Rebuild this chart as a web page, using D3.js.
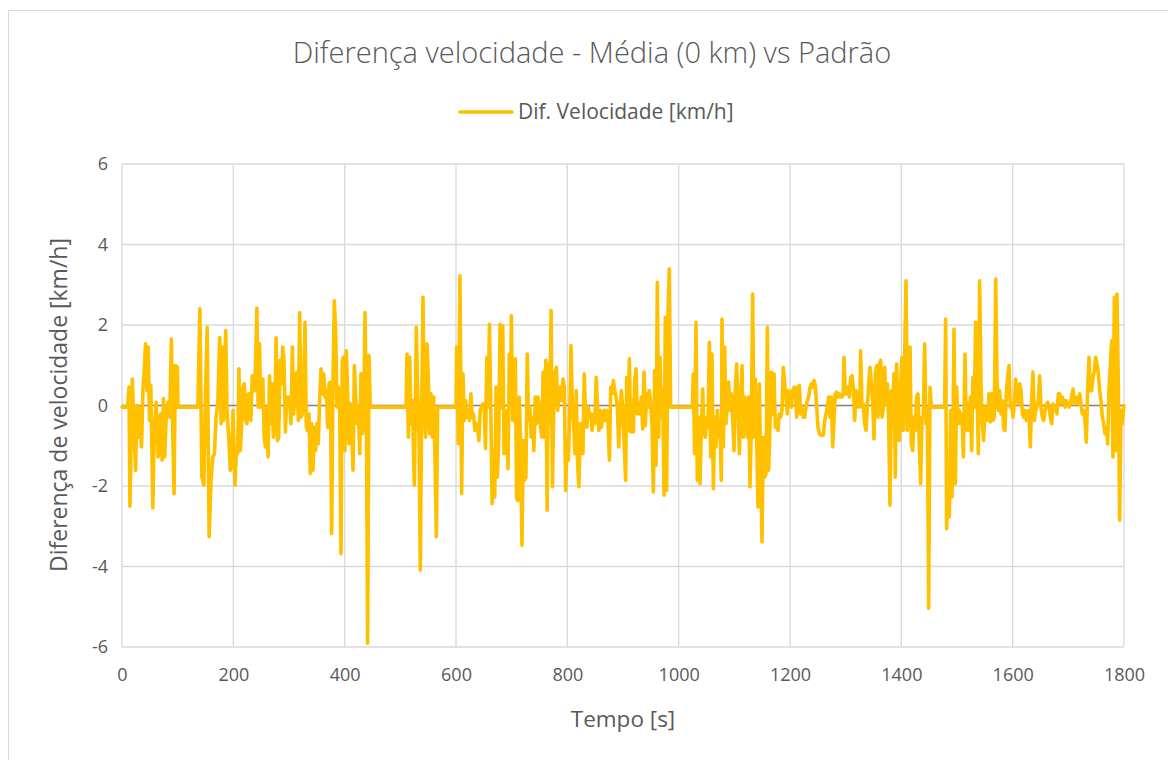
<!DOCTYPE html>
<html>
<head>
<meta charset="utf-8">
<script src="https://cdn.jsdelivr.net/npm/d3@7"></script>
<style>
  body { margin: 0; background: #fff; }
  text { font-family: "Open Sans", "Liberation Sans", sans-serif; fill: #595959; }
</style>
</head>
<body>
<div id="chart"></div>
<script>
// tempo [s]
const tempo = [
  0, 10.1, 12.5, 14.3, 18.5, 22, 24.4, 26.8, 29.2, 31.5,
  35.1, 37.5, 39.9, 42.3, 44.6, 47, 49.4, 51.8, 55.4, 57.7,
  61.3, 64.9, 67.3, 69.6, 72, 74.4, 76.8, 79.8, 82.7, 85.7,
  88.7, 91.1, 93.5, 95.8, 99.4, 100.6, 136.3, 139.9, 143.5, 147,
  150, 153, 156.5, 160, 163, 166, 169, 172, 175.6, 178,
  180.4, 182.7, 186.3, 188.7, 191.7, 194.6, 197, 199.4, 203, 205.4,
  207.7, 210, 212.5, 215, 217.3, 219.6, 222, 224.4, 226.8, 229,
  231.5, 234, 236.3, 238.7, 242.3, 244.6, 247, 249.4, 253, 255.4,
  257.7, 260, 262.5, 265, 267.3, 269.6, 272, 274.4, 276.8, 279.2,
  281.5, 284, 286.3, 288.7, 291, 293.5, 295.8, 298.2, 300.6, 303.6,
  306, 308.4, 311.4, 314.4, 316.8, 319.2, 321.6, 324, 326.3, 328.7,
  331.1, 333.5, 335.9, 338.3, 340.7, 343.1, 345.5, 347.9, 350.3, 352.7,
  355.1, 357.5, 359.9, 362.3, 364.7, 367.1, 369.5, 371.9, 374.3, 376.6,
  379, 381.4, 383.8, 386.2, 388.6, 391, 393.4, 395.8, 398.2, 400.6,
  403, 405.4, 407.8, 410.2, 412.6, 415, 417.4, 419.8, 422.2, 424.6,
  427, 429.3, 431.7, 434.1, 436.5, 438.9, 441.3, 443.7, 446.1, 510.2,
  512, 514.4, 516.8, 519.2, 521.6, 525.1, 528.7, 531.1, 533.5, 535.9,
  538.3, 540.7, 543.1, 545.5, 547.9, 550.3, 552.7, 555.1, 557.5, 559.9,
  562.3, 564.7, 567.1, 600, 601.2, 604.2, 607.1, 610.1, 612.5, 614.9,
  617.3, 619.6, 622, 624.4, 626.8, 629.2, 631.5, 633.9, 636.3, 638.7,
  641.1, 643.5, 645.8, 648.2, 650.6, 653, 655.4, 657.7, 660.1, 662.5,
  664.9, 667.3, 669.6, 672, 674.4, 676.8, 679.2, 681.5, 683.9, 686.3,
  688.7, 691.1, 693.5, 695.8, 698.2, 699.4, 701.8, 704.2, 706.5, 708.9,
  711.3, 713.7, 716.1, 718.5, 720.8, 723.2, 725.6, 728, 730.4, 732.7,
  735.1, 737.5, 739.9, 742.3, 744.6, 747, 749.4, 751.8, 754.2, 756.5,
  758.9, 761.3, 763.7, 766.1, 768.5, 770.8, 773.2, 775.6, 778, 780.4,
  782.7, 785.1, 787.5, 789.9, 792.3, 794.6, 797, 799.4, 801.8, 804.2,
  806.5, 808.9, 811.3, 813.7, 816.1, 818.5, 820.8, 823.2, 825.6, 828,
  830.4, 832.7, 835.1, 837.5, 839.9, 842.3, 844.6, 847, 849.4, 851.8,
  854.2, 856.5, 858.9, 861.3, 863.7, 866.1, 868.5, 870.8, 873.2, 875.6,
  878, 880.4, 882.7, 885.1, 887.5, 889.9, 892.3, 894.6, 897, 899.4,
  904.8, 906.6, 909, 911.4, 913.8, 916.2, 918.6, 921, 923.4, 925.7,
  928.1, 930.5, 932.9, 935.3, 937.7, 940.1, 942.5, 944.9, 947.3, 949.7,
  952.1, 954.5, 956.9, 959.3, 961.7, 964.1, 966.5, 968.9, 971.3, 973.7,
  976, 978.4, 980.8, 983.2, 985.6, 1024.6, 1026.3, 1028.7, 1031.1, 1033.5,
  1035.9, 1038.3, 1040.7, 1043.1, 1045.5, 1047.9, 1050.3, 1052.7, 1055.1, 1057.5,
  1059.9, 1062.3, 1064.7, 1067.1, 1069.5, 1071.9, 1074.3, 1076.6, 1077.8, 1080.2,
  1082.6, 1085, 1087.4, 1089.8, 1092.2, 1094.6, 1097, 1099.4, 1101.8, 1104.2,
  1106.6, 1109, 1111.4, 1113.8, 1116.2, 1118.6, 1121, 1123.4, 1125.7, 1128.1,
  1130.5, 1132.9, 1135.3, 1137.7, 1140.1, 1142.5, 1144.9, 1147.3, 1149.7, 1152.1,
  1154.5, 1156.9, 1159.3, 1161.7, 1164.1, 1166.5, 1168.9, 1171.3, 1173.7, 1176,
  1178.4, 1180.8, 1183.2, 1185.6, 1188, 1190.4, 1192.8, 1195.2, 1197.6, 1200,
  1202.4, 1204.8, 1207.2, 1209.6, 1212, 1214.4, 1216.8, 1219.2, 1221.6, 1224,
  1226.3, 1228.7, 1231.1, 1233.5, 1235.9, 1238.3, 1240.7, 1243.1, 1245.5, 1247.9,
  1250.3, 1252.7, 1255.1, 1257.5, 1259.9, 1262.3, 1264.7, 1267.1, 1269.5, 1271.9,
  1274.3, 1276.6, 1279, 1281.4, 1283.8, 1286.2, 1288.6, 1291, 1293.4, 1295.8,
  1297, 1299.4, 1301.8, 1304.2, 1306.6, 1309, 1311.4, 1313.8, 1316.2, 1318.6,
  1321, 1323.4, 1325.7, 1326.9, 1329.3, 1331.7, 1334.1, 1336.5, 1338.9, 1341.3,
  1343.7, 1346.1, 1348.5, 1350.9, 1353.3, 1355.7, 1358.1, 1360.5, 1362.9, 1365.3,
  1367.7, 1370.1, 1372.5, 1374.9, 1377.2, 1379.6, 1382, 1384.4, 1386.8, 1389.2,
  1391.6, 1394, 1396.4, 1398.8, 1401.2, 1403.6, 1406, 1408.4, 1410.8, 1413.2,
  1415.6, 1418, 1420.4, 1422.8, 1425.1, 1427.5, 1429.9, 1432.3, 1434.7, 1437.1,
  1439.5, 1441.9, 1444.3, 1446.7, 1449.1, 1451.5, 1453.9, 1477.8, 1479.6, 1481.4,
  1483.8, 1486.2, 1488.6, 1491, 1493.4, 1494.6, 1497, 1499.4, 1501.8, 1504.2,
  1506.6, 1509, 1511.4, 1514.4, 1516.8, 1519.2, 1521.6, 1524, 1526.3, 1528.7,
  1531.1, 1533.5, 1535.9, 1538.3, 1540.7, 1543.1, 1545.5, 1547.9, 1550.3, 1552.7,
  1555.1, 1557.5, 1559.9, 1562.3, 1564.7, 1567.1, 1569.5, 1571.9, 1574.3, 1576.6,
  1579, 1581.4, 1583.8, 1586.2, 1588.6, 1591, 1593.4, 1595.8, 1598.2, 1600.6,
  1603, 1605.4, 1607.8, 1610.2, 1612.6, 1615, 1617.4, 1619.8, 1622.2, 1624.6,
  1626.9, 1629.3, 1631.7, 1634.1, 1636.5, 1638.9, 1641.3, 1643.7, 1646.1, 1648.5,
  1650.9, 1653.3, 1655.7, 1658.1, 1660.5, 1662.9, 1665.3, 1667.7, 1670.1, 1672.5,
  1674.9, 1677.2, 1679.6, 1682, 1684.4, 1686.8, 1689.2, 1691.6, 1694, 1696.4,
  1698.8, 1701.2, 1703.6, 1706, 1708.4, 1710.8, 1713.2, 1715.6, 1718, 1720.4,
  1722.8, 1725.1, 1727.5, 1729.9, 1732.3, 1734.7, 1737.1, 1739.5, 1741.9, 1744.3,
  1746.7, 1749.1, 1751.5, 1753.9, 1756.3, 1758.7, 1761.1, 1763.5, 1765.9, 1768.3,
  1770.7, 1773.1, 1775.4, 1777.8, 1780.2, 1782.6, 1785, 1787.4, 1789.8, 1792.2,
  1794.6, 1797, 1799.4, 1800
];

// Dif. Velocidade [km/h]
const difVelocidade = [
  -0.04, -0.04, 0.45, -2.5, 0.66, -0.79, -1.61, 0, -0.79, -0.04,
  -1.03, 0.37, 0.87, 1.53, 0.37, 1.45, -0.37, 0.5, -2.54, -0.79,
  0.08, -1.28, -0.29, -0.21, -1.36, 0.17, -1.28, -0.12, 0.08, -0.29,
  1.65, -0.62, -2.19, 0.99, 0.95, -0.04, -0.04, 2.4, -1.78, -1.98,
  0.29, 1.94, -3.26, -1.86, -1.28, -1.2, -0.29, 0.04, 1.69, -0.45,
  1.45, -0.37, 1.86, -0.12, -0.79, -1.61, -1.45, -0.12, -1.98, -1.12,
  -1.2, 0.91, -1.12, -0.45, 0.45, 0.54, -0.37, -0.45, 0.29, 0.29,
  -0.37, 0.74, 0.37, 0.37, 2.42, -0.04, 1.53, -0.04, 0.66, -0.79,
  -1.03, -0.04, -1.28, 0.74, -0.45, 0.54, -0.79, -0.37, 1.68, -0.87,
  -0.79, 1.12, 0.54, 1.45, 1.12, -0.66, 0.21, 0.12, 0.21, -0.45,
  1.45, -0.21, 0.7, 0.83, -0.37, 2.31, -0.29, -0.21, 0.54, 2.07,
  -0.54, -0.62, -0.21, -1.69, -0.45, -1.61, -0.54, -1.12, -0.45, -0.95,
  0.12, 0.91, 0.29, 0.79, 0.21, 0.37, -0.54, 0.54, 0.58, -3.18,
  0.54, 2.6, 1.86, -0.04, 0.45, -0.04, -3.68, 1.12, 1.2, -1.12,
  1.36, 0.29, -0.95, 0.04, -0.54, -1.61, 0.99, 0.21, -0.45, -0.04,
  -1.2, 0.79, -0.7, -0.45, 2.31, -0.04, -5.91, 1.24, -0.04, -0.04,
  1.28, -0.79, 1.2, -0.45, 0.12, -1.98, 1.94, 0.37, -0.79, -4.09,
  -0.04, 2.69, -0.04, -0.79, 1.53, 0.7, -0.7, 0.29, -0.79, 0.21,
  -1.36, -3.26, -0.04, -0.04, 1.45, -0.95, 3.22, -2.19, 0.79, -0.37,
  0.12, -0.29, -0.12, -0.37, 0.29, -0.29, -0.21, -0.62, -0.45, -0.54,
  -0.87, -0.12, -0.04, 0.04, -0.04, -1.07, 1.2, -0.04, 2.02, -0.04,
  -2.44, -1.12, -2.27, 0.45, -1.78, -0.79, 2.02, -0.04, 1.98, -1.2,
  -0.12, -0.29, -1.57, 1.28, 0.04, 2.23, -0.37, 0.54, 1.16, -2.31,
  -2.36, 0.21, -0.95, -3.47, -0.87, -1.86, -1.78, 1.28, -0.37, -0.04,
  -0.79, -0.29, -1.12, 0.21, -0.45, 0.21, 0.04, -0.54, -0.79, 0.83,
  -0.79, 1.12, -2.6, 1.03, -0.45, 2.36, -2.02, -0.04, 0.79, 0.95,
  -0.12, 0.37, 0.45, 0.12, 0.66, 0.45, -2.11, -0.87, -1.36, -0.29,
  1.49, 0.04, -0.45, -1.2, 0.37, -1.45, -2.02, -0.45, -0.45, -1.2,
  0.79, -0.21, -0.54, -0.04, -0.29, -0.21, -0.62, -0.21, -0.45, 0.7,
  -0.04, -0.62, -0.12, -0.54, -0.29, -0.12, -0.37, -0.12, -0.45, -1.36,
  0.45, 0.29, 0.62, 0.37, 0.21, -0.04, -1.03, -0.29, 0.37, -0.04,
  -1.86, 0.7, -0.62, 1.16, -0.66, 0.12, -0.66, 0.62, 0.91, -0.21,
  0.04, -0.21, 0.21, -0.58, 0.83, -0.5, 0.29, -0.04, 0.37, 0.04,
  -0.45, -2.15, 0.87, -1.49, 3.06, -0.79, 1.2, -0.29, 0.37, -2.23,
  2.19, -2.11, 2.27, 3.39, -0.04, -0.04, 0.79, -1.2, 2.07, -1.86,
  -0.29, -1.94, -0.62, 0.41, -0.66, -0.79, -0.29, -0.54, 1.57, -1.28,
  1.28, -2.07, -0.29, -1.03, -0.12, -0.79, -0.45, -1.86, 2.15, -1.03,
  1.45, -0.45, 0.04, 0.58, -0.12, 0.29, -0.29, -1.12, 0.41, 1.03,
  -0.04, -1.2, 0.04, 0.99, -0.79, 0.21, -0.37, -0.79, 0.21, -2.02,
  -0.54, 2.77, -0.79, 0.66, -0.79, -2.52, 0.54, -1.45, -3.39, -0.79,
  -1.78, -1.69, 1.94, -1.61, -0.45, 0.83, -0.21, 0.79, -0.54, -0.37,
  -0.62, -0.21, -0.29, -0.12, 0.95, 0.54, 0.21, -0.21, 0.37, 0.21,
  -0.04, 0.37, 0.45, 0.45, -0.29, 0.45, 0.5, -0.21, -0.04, -0.29,
  -0.29, -0.04, 0.12, 0.21, 0.45, 0.54, 0.45, 0.62, 0.5, -0.04,
  -0.54, -0.7, -0.74, -0.74, -0.74, -0.37, -0.21, -0.04, 0.21, -0.29,
  0.21, -1.03, -0.37, 0.29, 0.33, 0.21, 0.29, 0.21, 0.21, 0.29,
  1.2, 0.29, 0.29, 0.45, 0.21, 0.7, 0.74, 0.45, -0.37, 0.37,
  0.29, -0.04, 0.21, 1.36, -0.04, 0.04, -0.45, -0.62, -0.04, 0.54,
  0.95, 0.54, 0.12, -0.83, 0.79, 0.99, -0.29, 1.03, 1.12, -0.29,
  -0.04, 0.95, 0.04, 0.54, -0.37, -2.48, 0.37, -0.45, 0.79, -1.78,
  1.03, -0.62, -0.87, 0.54, 1.2, -0.62, 1.28, 3.1, -0.62, 0.12,
  1.45, -0.95, -1.12, -0.29, -0.62, 0.21, 0.29, -0.95, -1.94, -0.29,
  -0.29, 1.53, -0.45, -0.04, -5.04, 0.45, -0.04, -0.04, 2.15, -3.06,
  -1.94, -2.77, -0.12, -2.27, 0.12, 1.9, -1.94, 0.45, -0.45, -0.12,
  -0.45, -0.21, -1.28, 1.28, -0.62, 0.04, -0.62, 0.21, -1.12, 0.7,
  -0.04, 2.07, 0.54, -1.2, 3.1, 0.54, -0.45, -0.87, -0.04, -0.12,
  -0.37, 0.29, -0.41, 0.29, -0.37, -0.29, 3.14, 0.62, -0.12, 0.37,
  -0.21, 0.12, -0.54, -0.62, 0.29, 0.7, 0.99, -0.04, 0.04, -0.29,
  0.04, 0.66, 0.29, 0.04, 0.54, 0.37, -0.21, -0.29, -0.12, -0.37,
  -0.21, -0.12, -1.03, 0.12, 0.83, -0.37, -0.12, -0.04, 0.12, 0.74,
  -0.04, -0.29, -0.37, -0.12, 0.04, 0.08, -0.04, -0.29, -0.45, 0.04,
  -0.12, 0, -0.21, 0.29, 0.29, 0.04, 0.21, 0.12, -0.04, 0.12,
  0.04, -0.04, 0.04, 0.21, 0.41, 0.04, 0.12, 0.21, 0.04, 0.29,
  0.04, -0.21, -0.12, -0.37, -0.91, 0.37, 1.2, 0.37, 0.37, 0.7,
  0.87, 1.2, 1.03, 0.79, 0.37, 0.12, -0.29, -0.45, -0.7, -0.54,
  -0.95, 0.45, 0.95, 1.61, -1.28, 2.69, -1.12, 2.77, 0.54, -2.85,
  -0.12, -0.45, -0.04, 0
];

const xTicks = [0, 200, 400, 600, 800, 1000, 1200, 1400, 1600, 1800];
const yTicks = [-6, -4, -2, 0, 2, 4, 6];

const titulo = "Diferença velocidade - Média (0 km) vs Padrão";
const nomeSerie = "Dif. Velocidade [km/h]";
const tituloX = "Tempo [s]";
const tituloY = "Diferença de velocidade [km/h]";

const width = 1168;
const height = 760;
const margin = { top: 164, right: 44, bottom: 113, left: 122 };

const svg = d3.select("#chart")
  .append("svg")
  .attr("width", width)
  .attr("height", height);

// chart area border
svg.append("rect")
  .attr("x", 8.5).attr("y", 10.5)
  .attr("width", 1180).attr("height", 780)
  .attr("fill", "#fff")
  .attr("stroke", "#d9d9d9");

const x = d3.scaleLinear().domain([0, 1800]).range([margin.left, width - margin.right]);
const y = d3.scaleLinear().domain([-6, 6]).range([height - margin.bottom, margin.top]);

// gridlines
svg.append("g")
  .selectAll("line.h")
  .data(yTicks)
  .enter().append("line")
  .attr("x1", x(0)).attr("x2", x(1800))
  .attr("y1", d => y(d)).attr("y2", d => y(d))
  .attr("stroke", "#d9d9d9").attr("stroke-width", 1.3);

svg.append("g")
  .selectAll("line.v")
  .data(xTicks)
  .enter().append("line")
  .attr("x1", d => x(d)).attr("x2", d => x(d))
  .attr("y1", y(6)).attr("y2", y(-6))
  .attr("stroke", "#d9d9d9").attr("stroke-width", 1.3);

// horizontal axis line at zero
svg.append("line")
  .attr("x1", x(0)).attr("x2", x(1800))
  .attr("y1", y(0)).attr("y2", y(0))
  .attr("stroke", "#868686").attr("stroke-width", 1.5);

// tick labels (plain hyphen for negatives, like Excel)
const yAxis = d3.axisLeft(y).tickValues(yTicks).tickSize(0).tickPadding(14).tickFormat(d => String(d));
svg.append("g")
  .attr("transform", `translate(${x(0)},0)`)
  .call(yAxis)
  .call(g => g.select(".domain").remove())
  .selectAll("text")
  .style("font-size", "18px")
  .attr("fill", "#595959");

const xAxis = d3.axisBottom(x).tickValues(xTicks).tickSize(0).tickPadding(21).tickFormat(d => String(d));
svg.append("g")
  .attr("transform", `translate(0,${y(-6)})`)
  .call(xAxis)
  .call(g => g.select(".domain").remove())
  .selectAll("text")
  .style("font-size", "18px")
  .attr("fill", "#595959");

// series
const pontos = tempo.map((t, i) => [t, difVelocidade[i]]);
const linha = d3.line().x(d => x(d[0])).y(d => y(d[1]));

svg.append("path")
  .datum(pontos)
  .attr("d", linha)
  .attr("fill", "none")
  .attr("stroke", "#ffc000")
  .attr("stroke-width", 3.6)
  .attr("stroke-linejoin", "round")
  .attr("stroke-linecap", "round");

// title
svg.append("text")
  .attr("x", 592).attr("y", 63)
  .attr("text-anchor", "middle")
  .style("font-size", "29px")
  .style("font-weight", 300)
  .text(titulo);

// legend
svg.append("line")
  .attr("x1", 460).attr("x2", 512)
  .attr("y1", 112).attr("y2", 112)
  .attr("stroke", "#ffc000").attr("stroke-width", 3.6)
  .attr("stroke-linecap", "round");

svg.append("text")
  .attr("x", 518).attr("y", 119)
  .style("font-size", "21px")
  .text(nomeSerie);

// axis titles
svg.append("text")
  .attr("x", 623).attr("y", 727)
  .attr("text-anchor", "middle")
  .style("font-size", "22.5px")
  .text(tituloX);

svg.append("text")
  .attr("transform", "translate(67,405) rotate(-90)")
  .attr("text-anchor", "middle")
  .style("font-size", "23px")
  .text(tituloY);
</script>
</body>
</html>
